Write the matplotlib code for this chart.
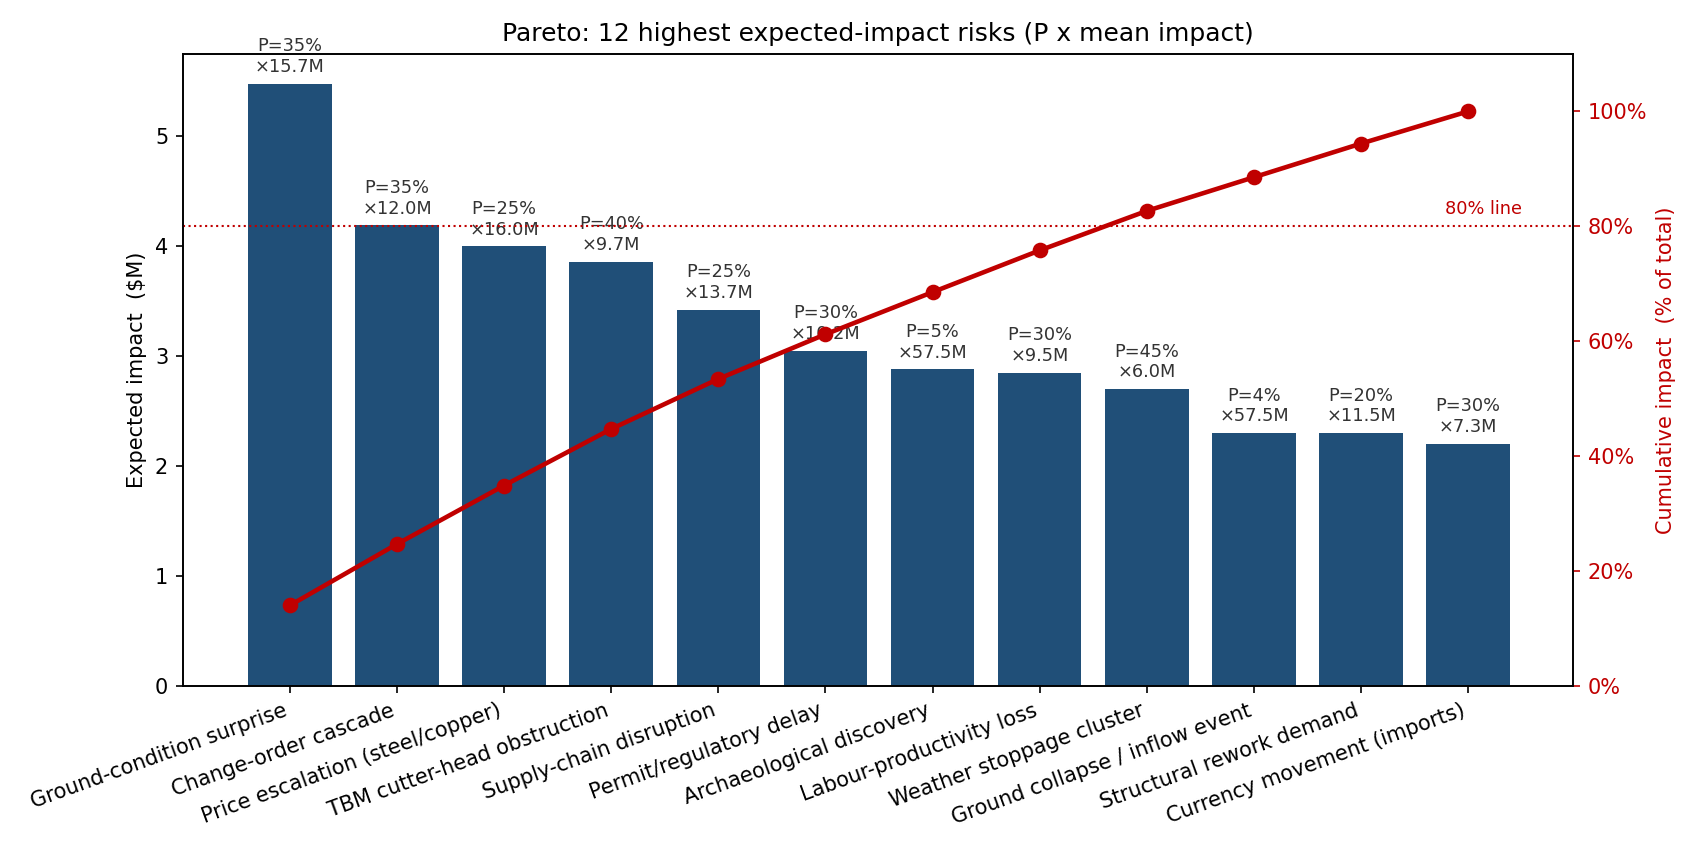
import matplotlib.pyplot as plt
import numpy as np
from matplotlib.ticker import PercentFormatter

risks = ["Ground-condition surprise", "Change-order cascade", "Price escalation (steel/copper)",
         "TBM cutter-head obstruction", "Supply-chain disruption", "Permit/regulatory delay",
         "Archaeological discovery", "Labour-productivity loss", "Weather stoppage cluster",
         "Ground collapse / inflow event", "Structural rework demand", "Currency movement (imports)"]
prob = [35, 35, 25, 40, 25, 30, 5, 30, 45, 4, 20, 30]
mean_impact = [15.7, 12.0, 16.0, 9.7, 13.7, 10.2, 57.5, 9.5, 6.0, 57.5, 11.5, 7.3]
expected = [5.48, 4.19, 4.0, 3.86, 3.42, 3.05, 2.88, 2.85, 2.70, 2.30, 2.30, 2.20]

cum = np.cumsum(expected) / np.sum(expected) * 100
x = np.arange(len(risks))

fig, ax = plt.subplots(figsize=(11.32, 5.667), dpi=150)
ax.bar(x, expected, color='#204f78', width=0.78)
for xi, v, p, m in zip(x, expected, prob, mean_impact):
    ax.text(xi, v + 0.07, f"P={p}%\n×{m:.1f}M", ha='center', va='bottom',
            fontsize=8.5, color='#333333')
ax.set_xticks(x)
ax.set_xticklabels(risks, rotation=20, ha='right')
ax.set_ylabel("Expected impact  ($M)")
ax.set_ylim(0, 5.75)
ax.set_xlim(-1, 11.98)
ax.set_title("Pareto: 12 highest expected-impact risks (P x mean impact)")

ax2 = ax.twinx()
ax2.plot(x, cum, color='#c00000', marker='o', lw=2.2, ms=6.5)
ax2.axhline(80, color='#c00000', ls=':', lw=1)
ax2.text(11.5, 81.5, "80% line", color='#c00000', fontsize=8.5, ha='right', va='bottom')
ax2.set_ylim(0, 110)
ax2.yaxis.set_major_formatter(PercentFormatter(decimals=0))
ax2.set_ylabel("Cumulative impact  (% of total)", color='#c00000')
ax2.tick_params(axis='y', colors='#c00000')

fig.tight_layout()
fig.savefig("out.png")
